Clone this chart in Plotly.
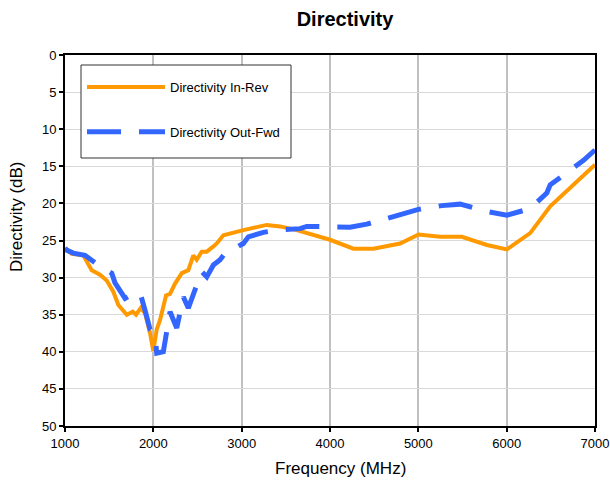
import plotly.graph_objects as go

freq_in = [1000, 1076, 1207, 1302, 1396, 1472, 1547, 1604, 1699, 1767, 1804, 1857, 1906, 1963, 2000,
           2038, 2076, 2144, 2189, 2246, 2322, 2396, 2453, 2491, 2548, 2605, 2680, 2718, 2793, 2906,
           3019, 3170, 3284, 3435, 3624, 4000, 4265, 4491, 4794, 5002, 5247, 5493, 5776, 6002, 6266,
           6493, 6757, 7000]
dir_in = [26.0, 26.8, 27.0, 29.0, 29.6, 30.4, 31.9, 33.7, 35.0, 34.6, 35.0, 34.1, 34.8, 37.5, 39.9,
          37.0, 35.7, 32.4, 32.2, 30.8, 29.4, 29.0, 27.0, 27.6, 26.5, 26.5, 25.8, 25.4, 24.3, 23.9,
          23.6, 23.2, 22.9, 23.1, 23.6, 24.9, 26.1, 26.1, 25.4, 24.2, 24.5, 24.5, 25.6, 26.2, 24.0,
          20.4, 17.5, 14.8]

freq_out = [1000, 1019, 1094, 1226, 1377, 1472, 1529, 1566, 1680, 1755, 1849, 1906, 1963, 2019, 2038,
            2113, 2152, 2189, 2265, 2340, 2396, 2491, 2548, 2605, 2680, 2756, 2812, 2887, 3019, 3076,
            3246, 3397, 3661, 3737, 4226, 4416, 4775, 5002, 5265, 5474, 5776, 6002, 6266, 6454, 6493,
            6701, 6870, 7000]
dir_out = [26.0, 26.3, 26.7, 27.0, 28.3, 29.0, 29.4, 30.7, 32.8, 32.3, 32.0, 34.4, 37.0, 37.7, 40.2,
           40.0, 37.0, 34.6, 36.8, 32.6, 34.1, 31.0, 29.2, 29.9, 28.3, 27.6, 26.7, 26.3, 25.4, 24.5,
           23.9, 23.6, 23.4, 23.1, 23.2, 22.8, 21.6, 20.8, 20.3, 20.1, 21.1, 21.6, 20.7, 18.6, 17.5,
           15.7, 14.2, 12.8]

x_ticks = [1000, 2000, 3000, 4000, 5000, 6000, 7000]
y_ticks = [0, 5, 10, 15, 20, 25, 30, 35, 40, 45, 50]

FONT = "Liberation Sans, Arial, sans-serif"

# plot area in pixels
L, R, T, B = 65, 595, 55, 426
W, H = 610, 487


def px_x(p):
    return (p - L) / (R - L)


def px_y(p):
    return 1 - (p - T) / (B - T)


fig = go.Figure()
fig.add_trace(go.Scatter(x=freq_in, y=dir_in, mode="lines", name="Directivity In-Rev",
                         legendgroup="a",
                         line=dict(color="#FF9900", width=4)))
fig.add_trace(go.Scatter(x=freq_out, y=dir_out, mode="lines", name="Directivity Out-Fwd",
                         legendgroup="b",
                         line=dict(color="#3366FF", width=5, dash="34px,18px")))

# legend frame
fig.add_shape(type="rect", xref="paper", yref="paper",
              x0=px_x(81), x1=px_x(291), y0=px_y(158), y1=px_y(65),
              fillcolor="white", line=dict(color="#333333", width=1), layer="above")

# axis titles
fig.add_annotation(text="Frequency (MHz)", xref="paper", yref="paper",
                   x=px_x(340), y=px_y(468), xanchor="center", yanchor="middle",
                   showarrow=False, font=dict(size=17, family=FONT, color="black"))
fig.add_annotation(text="Directivity (dB)", xref="paper", yref="paper",
                   x=px_x(16), y=px_y(217), xanchor="center", yanchor="middle",
                   textangle=-90, showarrow=False,
                   font=dict(size=17, family=FONT, color="black"))

fig.update_layout(
    width=W, height=H,
    margin=dict(l=L, r=W - R, t=T, b=H - B, autoexpand=False),
    paper_bgcolor="white", plot_bgcolor="white",
    font=dict(family=FONT, size=13, color="black"),
    title=dict(text="<b>Directivity</b>", x=345 / W, xanchor="center", y=1 - 19 / H,
               yanchor="middle", font=dict(size=20, family=FONT, color="black")),
    legend=dict(x=px_x(82), y=px_y(72), xanchor="left", yanchor="top",
                bgcolor="rgba(0,0,0,0)", borderwidth=0,
                itemwidth=78, tracegroupgap=25,
                font=dict(size=13, family=FONT, color="black")),
    showlegend=True,
)
fig.update_xaxes(range=[1000, 7000], tickvals=x_ticks, ticktext=[str(v) for v in x_ticks],
                 showgrid=True, gridcolor="#C0C0C0", gridwidth=2,
                 showline=True, linecolor="black", linewidth=2, mirror=True,
                 ticks="outside", ticklen=4, tickcolor="black", tickwidth=2,
                 tickfont=dict(size=13), zeroline=False)
fig.update_yaxes(range=[50, 0], tickvals=y_ticks, ticktext=[str(v) for v in y_ticks],
                 showgrid=True, gridcolor="#D9D9D9", gridwidth=1,
                 showline=True, linecolor="black", linewidth=2, mirror=True,
                 ticks="outside", ticklen=4, tickcolor="black", tickwidth=2,
                 tickfont=dict(size=13), zeroline=False)

fig.write_html("out.html", config={"displayModeBar": False},
               post_script="document.body.style.margin='0';document.body.style.padding='0';")
